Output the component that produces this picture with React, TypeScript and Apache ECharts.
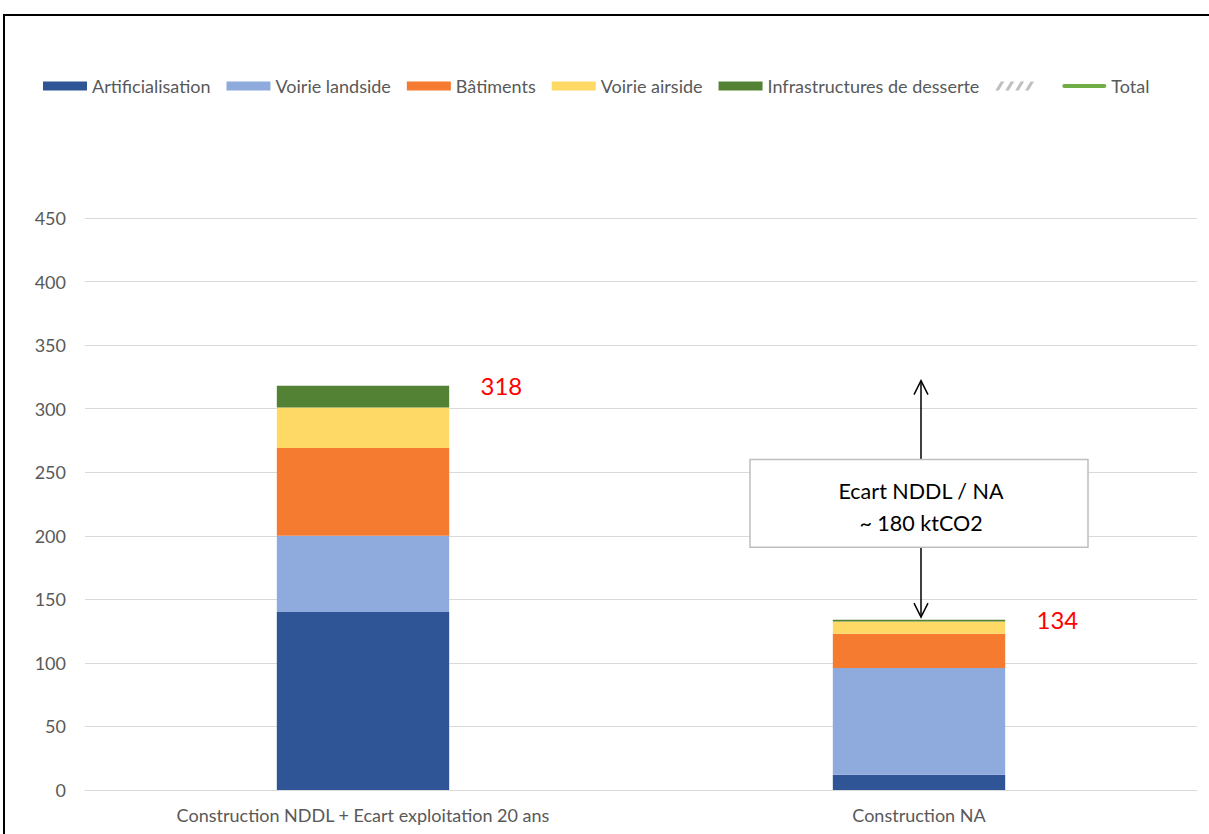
import React, { useEffect, useRef } from "react";
import * as echarts from "echarts";

const categories = ["Construction NDDL + Ecart exploitation 20 ans", "Construction NA"];
const artificialisation = [140, 12];
const voirieLandside = [60, 84];
const batiments = [69, 27];
const voirieAirside = [32, 9.5];
const infrastructures = [17, 1.5];
const hatched = [0, 0];
const total = [318, 134];
const gapArrow = { category: 1, from: 136, to: 322 };
const gapBox = { top: 260, bottom: 191 };
const gapText = ["Ecart NDDL / NA", "~ 180 ktCO2"];

const FONT = "Lato";
const GREY = "#595959";

export default function App() {
  const ref = useRef<HTMLDivElement>(null);
  useEffect(() => {
    const chart = echarts.init(ref.current!, null, { renderer: "svg" });
    const barSeries = (name: string, data: number[], color: string) => ({
      name,
      type: "bar",
      stack: "s",
      data,
      barWidth: "31%",
      itemStyle: { color },
    });
    chart.setOption({
      animation: false,
      textStyle: { fontFamily: FONT },
      grid: { left: 85, right: 12, top: 218, bottom: 44, containLabel: false },
      legend: {
        left: 43,
        top: 77,
        padding: 0,
        itemWidth: 44,
        itemHeight: 9,
        itemGap: 16,
        textStyle: { fontFamily: FONT, fontSize: 18, color: GREY },
        data: [
          { name: "Artificialisation", icon: "rect" },
          { name: "Voirie landside", icon: "rect" },
          { name: "Bâtiments", icon: "rect" },
          { name: "Voirie airside", icon: "rect" },
          { name: "Infrastructures de desserte", icon: "rect" },
          {
            name: " ",
            icon: "path://M0,10 L4,10 L10,0 L6,0 Z M11,10 L15,10 L21,0 L17,0 Z M22,10 L26,10 L32,0 L28,0 Z M33,10 L37,10 L43,0 L39,0 Z",
            itemStyle: { color: "#c0c0c0" },
          },
          {
            name: "Total",
            icon: "path://M2,0 L44,0 A2,2 0 0 1 44,4 L2,4 A2,2 0 0 1 2,0 Z",
            itemStyle: { color: "#70ad47", opacity: 1 },
          },
        ],
      },
      xAxis: {
        type: "category",
        data: categories,
        axisLine: { lineStyle: { color: "#d9d9d9", width: 1 } },
        axisTick: { show: false },
        axisLabel: { fontFamily: FONT, fontSize: 18, color: GREY, margin: 16 },
      },
      yAxis: {
        type: "value",
        min: 0,
        max: 450,
        interval: 50,
        axisLine: { show: false },
        axisTick: { show: false },
        splitLine: { lineStyle: { color: "#d9d9d9", width: 1 } },
        axisLabel: { fontFamily: FONT, fontSize: 18, color: GREY, margin: 19 },
      },
      series: [
        barSeries("Artificialisation", artificialisation, "#2f5597"),
        barSeries("Voirie landside", voirieLandside, "#8faadc"),
        barSeries("Bâtiments", batiments, "#f47b30"),
        barSeries("Voirie airside", voirieAirside, "#ffd966"),
        barSeries("Infrastructures de desserte", infrastructures, "#548235"),
        barSeries(" ", hatched, "#c0c0c0"),
        {
          name: "Total",
          type: "line",
          data: total,
          symbol: "circle",
          symbolSize: 1,
          showSymbol: true,
          lineStyle: { color: "#70ad47", width: 3, opacity: 0 },
          itemStyle: { color: "rgba(0,0,0,0)" },
          label: {
            show: true,
            position: "right",
            distance: 117,
            color: "#ff0000",
            fontSize: 24,
            fontFamily: FONT,
            formatter: (p: any) => String(Math.round(p.value)),
          },
        },
      ],
    });

    const pt = (v: number) => chart.convertToPixel({ xAxisIndex: 0, yAxisIndex: 0 }, [gapArrow.category, v]) as number[];
    const top = pt(gapArrow.to);
    const bot = pt(gapArrow.from);
    const bt = pt(gapBox.top);
    const bb = pt(gapBox.bottom);
    const cx = top[0] + 2;
    const boxW = 338;
    const arrowStyle = { stroke: "#000", lineWidth: 1.5, fill: "none" };
    chart.setOption({
      graphic: [
        {
          type: "rect",
          shape: { x: 4, y: 15, width: 1400, height: 1000 },
          style: { fill: "none", stroke: "#000", lineWidth: 2 },
          silent: true,
        },
        { type: "line", shape: { x1: cx, y1: top[1], x2: cx, y2: bot[1] }, style: arrowStyle },
        {
          type: "polyline",
          shape: { points: [[cx - 7, top[1] + 14], [cx, top[1]], [cx + 7, top[1] + 14]] },
          style: arrowStyle,
        },
        {
          type: "polyline",
          shape: { points: [[cx - 7, bot[1] - 14], [cx, bot[1]], [cx + 7, bot[1] - 14]] },
          style: arrowStyle,
        },
        {
          type: "rect",
          shape: { x: cx - 2 - boxW / 2, y: bt[1], width: boxW, height: bb[1] - bt[1] },
          style: { fill: "#fff", stroke: "#bfbfbf", lineWidth: 1.5 },
        },
        {
          type: "text",
          x: cx,
          y: bt[1] + 31,
          style: {
            text: gapText[0],
            fontFamily: FONT,
            fontSize: 21.5,
            fill: "#000",
            align: "center",
            verticalAlign: "middle",
          },
        },
        {
          type: "text",
          x: cx,
          y: bt[1] + 63,
          style: {
            text: gapText[1],
            fontFamily: FONT,
            fontSize: 21.5,
            fill: "#000",
            align: "center",
            verticalAlign: "middle",
          },
        },
      ],
    });
    return () => chart.dispose();
  }, []);
  return (
    <div
      ref={ref}
      style={{ position: "fixed", left: 0, top: 0, width: 1209, height: 834, background: "#fff" }}
    />
  );
}
